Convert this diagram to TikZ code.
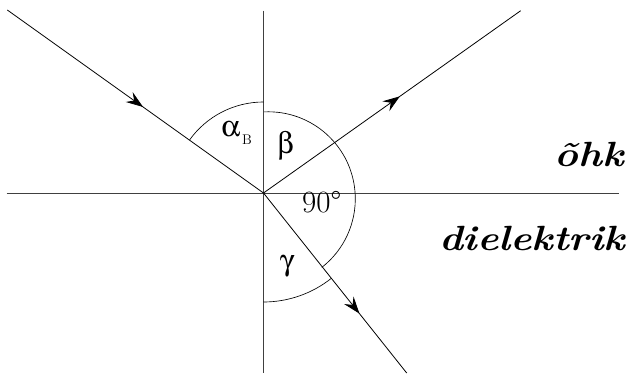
\documentclass[tikz,border=0pt]{standalone}
\usepackage{fontspec}
\usepackage[Symbol]{upgreek}
\usetikzlibrary{arrows.meta,decorations.markings}
\tikzset{
  ray/.style={line width=0.8pt, black},
  axis/.style={line width=0.8pt, black!75},
  anglearc/.style={line width=0.65pt, black},
  midarrow/.style={postaction={decorate},decoration={markings,
      mark=at position #1 with {\arrow{Stealth[length=17pt,width=12pt,inset=6pt]}}}},
  glabel/.style={inner sep=0pt},
  medium/.style={inner sep=0pt, anchor=base east, xscale=1.15, transform shape}
}
\newcommand{\gsize}{\fontsize{30}{30}\selectfont}
\newcommand{\nsize}{\fontsize{31}{31}\selectfont}
\newcommand{\msize}{\bfseries\itshape\fontsize{35}{38}\selectfont}
\begin{document}
\begin{tikzpicture}[x=1pt,y=1pt]
\useasboundingbox (0,0) rectangle (630,373);
% key points
\coordinate (O) at (263.5,180);
\coordinate (A) at (7.3,363);
\coordinate (R) at (520.7,362.3);
\coordinate (T) at (406.7,0);
\coordinate (Vt) at (263.5,362.3);
\coordinate (Vb) at (263.5,0);
\coordinate (Hl) at (6.7,180);
\coordinate (Hr) at (619,180);
% axes
\draw[axis] (Vt) -- (Vb);
\draw[axis] (Hl) -- (Hr);
% rays
\draw[ray, midarrow=0.53] (A) -- (O);
\draw[ray, midarrow=0.53] (O) -- (R);
\draw[ray, midarrow=0.67] (O) -- (T);
% arcs
\draw[anglearc] ([shift={(90:91)}]O) arc[start angle=90, end angle=144.4, radius=91];
\coordinate (C2) at (268.3,174.2);
\draw[anglearc] ([shift={(92.8:87)}]C2) arc[start angle=92.8, end angle=-52.1, radius=87];
\draw[anglearc] ([shift={(-90:109)}]O) arc[start angle=-90, end angle=-51.5, radius=109];
% labels
\node[glabel] (alpha) at (230.8,243.5) {\gsize $\upalpha$};
\node[inner sep=0pt] (alphaB) at (247,233) {\fontsize{14}{14}\selectfont B};
\node[glabel] (beta) at (285.5,227) {\gsize $\upbeta$};
\node[glabel] (ninety) at (321.7,171.3) {\nsize 90\textdegree};
\node[glabel] (gamma) at (287.5,106.3) {\gsize $\upgamma$};
\node[medium] (air) at (624,207) {\msize õhk};
\node[medium] (diel) at (625,123) {\msize dielektrik};
\end{tikzpicture}
\end{document}
